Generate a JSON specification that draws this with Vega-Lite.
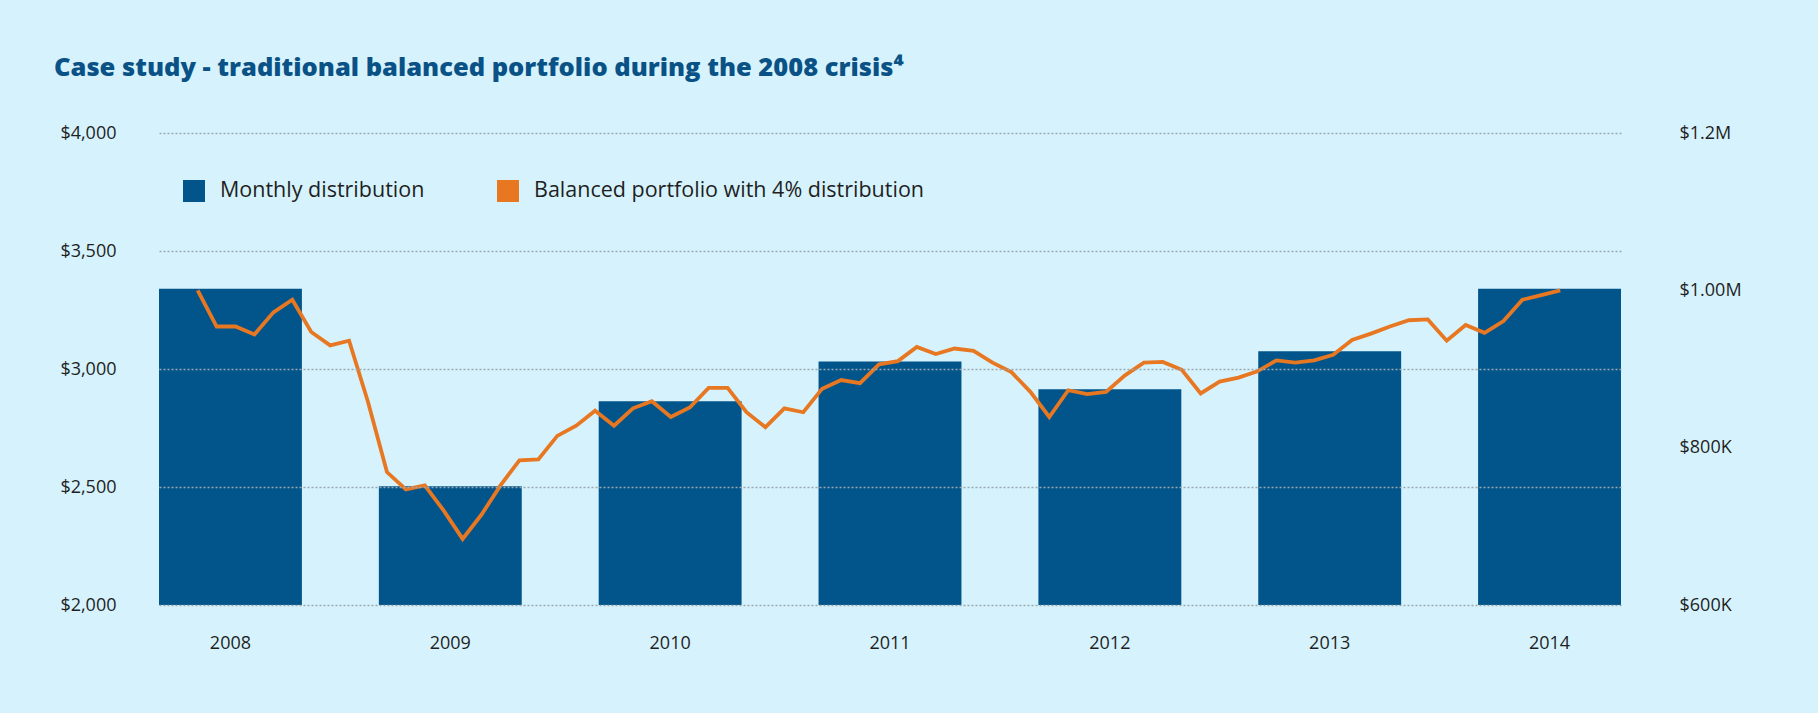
{
  "$schema": "https://vega.github.io/schema/vega-lite/v6.json",
  "width": 1462,
  "height": 472,
  "autosize": {"type": "none"},
  "padding": {"left": 159, "top": 133, "right": 197, "bottom": 108},
  "background": "#d6f3fd",
  "title": {
    "text": "Case study - traditional balanced portfolio during the 2008 crisis⁴",
    "anchor": "start",
    "frame": "group",
    "dx": -105,
    "font": "Open Sans",
    "fontSize": 25.5,
    "fontWeight": 800,
    "color": "#0a5286",
    "offset": 43
  },
  "config": {
    "view": {"stroke": null},
    "axis": {
      "labelFont": "Open Sans",
      "labelFontSize": 18,
      "labelColor": "#1f1f1f",
      "domain": false,
      "ticks": false,
      "title": null
    }
  },
  "datasets": {
    "bars": [
      {"year": "2008", "distribution": 3340},
      {"year": "2009", "distribution": 2503},
      {"year": "2010", "distribution": 2863},
      {"year": "2011", "distribution": 3032},
      {"year": "2012", "distribution": 2914},
      {"year": "2013", "distribution": 3075},
      {"year": "2014", "distribution": 3340}
    ],
    "portfolio": [
      {"month": 0, "date": "2008-01", "value": 1000000},
      {"month": 1, "date": "2008-02", "value": 954000},
      {"month": 2, "date": "2008-03", "value": 954000},
      {"month": 3, "date": "2008-04", "value": 944000},
      {"month": 4, "date": "2008-05", "value": 972000},
      {"month": 5, "date": "2008-06", "value": 988000},
      {"month": 6, "date": "2008-07", "value": 947000},
      {"month": 7, "date": "2008-08", "value": 930000},
      {"month": 8, "date": "2008-09", "value": 936000},
      {"month": 9, "date": "2008-10", "value": 858000},
      {"month": 10, "date": "2008-11", "value": 769000},
      {"month": 11, "date": "2008-12", "value": 747000},
      {"month": 12, "date": "2009-01", "value": 752000},
      {"month": 13, "date": "2009-02", "value": 720000},
      {"month": 14, "date": "2009-03", "value": 684000},
      {"month": 15, "date": "2009-04", "value": 715000},
      {"month": 16, "date": "2009-05", "value": 752000},
      {"month": 17, "date": "2009-06", "value": 784000},
      {"month": 18, "date": "2009-07", "value": 785000},
      {"month": 19, "date": "2009-08", "value": 815000},
      {"month": 20, "date": "2009-09", "value": 828000},
      {"month": 21, "date": "2009-10", "value": 847000},
      {"month": 22, "date": "2009-11", "value": 828000},
      {"month": 23, "date": "2009-12", "value": 850000},
      {"month": 24, "date": "2010-01", "value": 859000},
      {"month": 25, "date": "2010-02", "value": 839000},
      {"month": 26, "date": "2010-03", "value": 851000},
      {"month": 27, "date": "2010-04", "value": 876000},
      {"month": 28, "date": "2010-05", "value": 876000},
      {"month": 29, "date": "2010-06", "value": 845000},
      {"month": 30, "date": "2010-07", "value": 826000},
      {"month": 31, "date": "2010-08", "value": 850000},
      {"month": 32, "date": "2010-09", "value": 845000},
      {"month": 33, "date": "2010-10", "value": 875000},
      {"month": 34, "date": "2010-11", "value": 886000},
      {"month": 35, "date": "2010-12", "value": 882000},
      {"month": 36, "date": "2011-01", "value": 906000},
      {"month": 37, "date": "2011-02", "value": 910000},
      {"month": 38, "date": "2011-03", "value": 928000},
      {"month": 39, "date": "2011-04", "value": 919000},
      {"month": 40, "date": "2011-05", "value": 926000},
      {"month": 41, "date": "2011-06", "value": 923000},
      {"month": 42, "date": "2011-07", "value": 908000},
      {"month": 43, "date": "2011-08", "value": 896000},
      {"month": 44, "date": "2011-09", "value": 871000},
      {"month": 45, "date": "2011-10", "value": 839000},
      {"month": 46, "date": "2011-11", "value": 873000},
      {"month": 47, "date": "2011-12", "value": 868000},
      {"month": 48, "date": "2012-01", "value": 871000},
      {"month": 49, "date": "2012-02", "value": 892000},
      {"month": 50, "date": "2012-03", "value": 908000},
      {"month": 51, "date": "2012-04", "value": 909000},
      {"month": 52, "date": "2012-05", "value": 899000},
      {"month": 53, "date": "2012-06", "value": 869000},
      {"month": 54, "date": "2012-07", "value": 884000},
      {"month": 55, "date": "2012-08", "value": 889000},
      {"month": 56, "date": "2012-09", "value": 897000},
      {"month": 57, "date": "2012-10", "value": 911000},
      {"month": 58, "date": "2012-11", "value": 908000},
      {"month": 59, "date": "2012-12", "value": 911000},
      {"month": 60, "date": "2013-01", "value": 918000},
      {"month": 61, "date": "2013-02", "value": 937000},
      {"month": 62, "date": "2013-03", "value": 945000},
      {"month": 63, "date": "2013-04", "value": 954000},
      {"month": 64, "date": "2013-05", "value": 962000},
      {"month": 65, "date": "2013-06", "value": 963000},
      {"month": 66, "date": "2013-07", "value": 936000},
      {"month": 67, "date": "2013-08", "value": 956000},
      {"month": 68, "date": "2013-09", "value": 946000},
      {"month": 69, "date": "2013-10", "value": 961000},
      {"month": 70, "date": "2013-11", "value": 988000},
      {"month": 71, "date": "2013-12", "value": 994000},
      {"month": 72, "date": "2014-01", "value": 1000000}
    ]
  },
  "layer": [
    {
      "data": {"name": "bars"},
      "mark": {"type": "bar"},
      "encoding": {
        "x": {
          "field": "year",
          "type": "ordinal",
          "scale": {"paddingInner": 0.35, "paddingOuter": 0},
          "axis": {"labelAngle": 0, "labelPadding": 29, "grid": false}
        },
        "y": {
          "field": "distribution",
          "type": "quantitative",
          "scale": {"domain": [2000, 4000], "zero": false, "nice": false},
          "axis": {
            "values": [2000, 2500, 3000, 3500, 4000],
            "format": "$,.0f",
            "labelPadding": 43,
            "grid": true,
            "gridDash": [2, 2],
            "gridColor": "#9aa8b0",
            "gridWidth": 1.5,
            "zindex": 1
          }
        },
        "y2": {"datum": 2000},
        "color": {
          "datum": "Monthly distribution",
          "scale": {
            "domain": ["Monthly distribution", "Balanced portfolio with 4% distribution"],
            "range": ["#02558a", "#e87722"]
          },
          "legend": {
            "orient": "none",
            "legendX": 24,
            "legendY": 47,
            "direction": "horizontal",
            "columns": 2,
            "symbolType": "square",
            "symbolSize": 484,
            "symbolStrokeWidth": 0,
            "symbolOpacity": 1,
            "labelFont": "Open Sans",
            "labelFontSize": 21.5,
            "labelLimit": 700,
            "labelColor": "#1f1f1f",
            "labelOffset": 15,
            "columnPadding": 72,
            "title": null
          }
        }
      }
    },
    {
      "data": {"name": "portfolio"},
      "mark": {"type": "line", "strokeWidth": 3.8},
      "encoding": {
        "x": {
          "field": "month",
          "type": "quantitative",
          "scale": {"domain": [-2.045, 75.21], "nice": false, "zero": false},
          "axis": null
        },
        "y": {
          "field": "value",
          "type": "quantitative",
          "scale": {"domain": [600000, 1200000], "nice": false, "zero": false},
          "axis": {
            "orient": "right",
            "values": [600000, 800000, 1000000, 1200000],
            "labelExpr": "datum.value == 1200000 ? '$1.2M' : datum.value == 1000000 ? '$1.00M' : '$' + format(datum.value / 1000, 'd') + 'K'",
            "labelPadding": 58,
            "labelAlign": "left",
            "grid": false
          }
        },
        "color": {"datum": "Balanced portfolio with 4% distribution", "legend": null}
      }
    }
  ],
  "resolve": {"scale": {"x": "independent", "y": "independent"}}
}
